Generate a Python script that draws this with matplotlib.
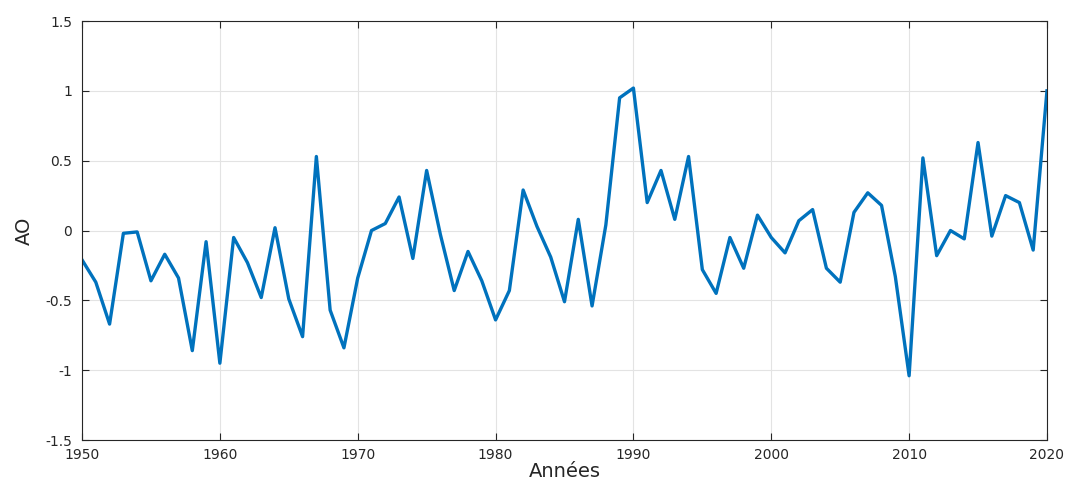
import matplotlib
matplotlib.use("Agg")
import matplotlib.pyplot as plt

years = list(range(1950, 2021))
ao = [-0.21, -0.37, -0.67, -0.02, -0.01, -0.36, -0.17, -0.34, -0.86, -0.08,
      -0.95, -0.05, -0.23, -0.48, 0.02, -0.49, -0.76, 0.53, -0.57, -0.84,
      -0.34, 0.00, 0.05, 0.24, -0.20, 0.43, -0.03, -0.43, -0.15, -0.36,
      -0.64, -0.43, 0.29, 0.03, -0.19, -0.51, 0.08, -0.54, 0.04, 0.95,
      1.02, 0.20, 0.43, 0.08, 0.53, -0.28, -0.45, -0.05, -0.27, 0.11,
      -0.05, -0.16, 0.07, 0.15, -0.27, -0.37, 0.13, 0.27, 0.18, -0.33,
      -1.04, 0.52, -0.18, 0.00, -0.06, 0.63, -0.04, 0.25, 0.20, -0.14,
      1.00]

xticks = [1950, 1960, 1970, 1980, 1990, 2000, 2010, 2020]
yticks = [-1.5, -1, -0.5, 0, 0.5, 1, 1.5]
ytick_labels = ["-1.5", "-1", "-0.5", "0", "0.5", "1", "1.5"]

plt.rcParams["font.family"] = ["DejaVu Sans"]

fig = plt.figure(figsize=(10.68, 4.82), dpi=100)
ax = fig.add_axes([0.0768, 0.0871, 0.9035, 0.8693])

ax.plot(years, ao, color="#0072BD", linewidth=2.4)

ax.set_xlim(1950, 2020)
ax.set_ylim(-1.5, 1.5)
ax.set_xticks(xticks)
ax.set_yticks(yticks)
ax.set_yticklabels(ytick_labels)
ax.tick_params(direction="in", length=5, width=0.8, top=True, right=True,
               labelsize=10, colors="#262626")
ax.tick_params(axis="y", pad=7)
ax.tick_params(axis="x", pad=6)
ax.grid(True, color="#e3e3e3", linewidth=0.8)
ax.set_axisbelow(True)
for s in ax.spines.values():
    s.set_color("#262626")
    s.set_linewidth(0.8)

ax.set_xlabel("Années", fontsize=14, color="#262626", labelpad=0)
ax.set_ylabel("AO", fontsize=14, color="#262626", labelpad=8)

fig.savefig("out.png", dpi=100)
